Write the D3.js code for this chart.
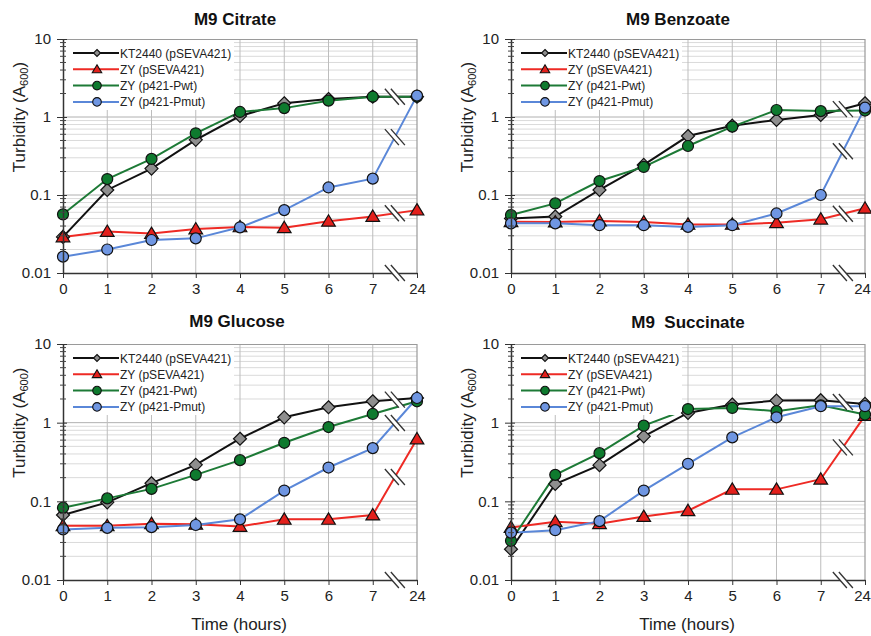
<!DOCTYPE html>
<html>
<head>
<meta charset="utf-8">
<script src="https://cdn.jsdelivr.net/npm/d3@7"></script>
<style>
  body { margin: 0; background: #fff; }
  svg { display: block; font-family: "Liberation Sans", Arial, sans-serif; }
</style>
</head>
<body>
<div id="chart"></div>
<script>
// growth curves, four media

const hours = ["0", "1", "2", "3", "4", "5", "6", "7", "24"];
const yTicks = [10, 1, 0.1, 0.01];
const seriesNames = ["KT2440 (pSEVA421)", "ZY (pSEVA421)", "ZY (p421-Pwt)", "ZY (p421-Pmut)"];

const citrateKT   = [0.029, 0.116, 0.218, 0.51, 1.03, 1.50, 1.70, 1.82, 1.82];
const citrateZY   = [0.029, 0.034, 0.032, 0.0366, 0.039, 0.038, 0.046, 0.053, 0.064];
const citratePwt  = [0.0565, 0.160, 0.290, 0.618, 1.16, 1.30, 1.62, 1.82, 1.82];
const citratePmut = [0.0162, 0.020, 0.0265, 0.0278, 0.0385, 0.064, 0.125, 0.162, 1.88];

const benzoateKT   = [0.050, 0.053, 0.116, 0.243, 0.57, 0.774, 0.916, 1.06, 1.50];
const benzoateZY   = [0.0455, 0.045, 0.0464, 0.045, 0.042, 0.042, 0.044, 0.049, 0.0675];
const benzoatePwt  = [0.0554, 0.078, 0.151, 0.229, 0.425, 0.752, 1.23, 1.19, 1.21];
const benzoatePmut = [0.0433, 0.0433, 0.041, 0.041, 0.039, 0.041, 0.058, 0.10, 1.32];

const glucoseKT   = [0.067, 0.097, 0.17, 0.291, 0.625, 1.17, 1.57, 1.87, 2.06];
const glucoseZY   = [0.049, 0.049, 0.052, 0.051, 0.048, 0.059, 0.059, 0.067, 0.62];
const glucosePwt  = [0.083, 0.109, 0.144, 0.217, 0.334, 0.555, 0.88, 1.29, 1.87];
const glucosePmut = [0.044, 0.046, 0.047, 0.050, 0.059, 0.137, 0.269, 0.475, 2.06];

const succinateKT   = [0.0246, 0.166, 0.288, 0.67, 1.33, 1.70, 1.91, 1.93, 1.73];
const succinateZY   = [0.0466, 0.055, 0.052, 0.064, 0.076, 0.142, 0.142, 0.191, 1.23];
const succinatePwt  = [0.0315, 0.217, 0.41, 0.916, 1.49, 1.54, 1.40, 1.66, 1.27];
const succinatePmut = [0.040, 0.043, 0.056, 0.137, 0.30, 0.65, 1.17, 1.62, 1.62];

const styles = [
  { line: "#111111", fill: "#8e8e8e", shape: "diamond", size: 6.5, legendSize: 3.5 },
  { line: "#ee2a24", fill: "#e3201c", shape: "triangle", size: 6.5, legendSize: 4.5 },
  { line: "#1d7a36", fill: "#0e7a2e", shape: "circle", size: 5.5, legendSize: 4.3 },
  { line: "#5a87d8", fill: "#6f96e2", shape: "circle", size: 5.5, legendSize: 4.3 }
];

const panels = [
  { title: "M9 Citrate", series: [citrateKT, citrateZY, citratePwt, citratePmut],
    left: 63, top: 39, width: 354, height: 234, titleX: 235, titleY: 25, xLabel: false },
  { title: "M9 Benzoate", series: [benzoateKT, benzoateZY, benzoatePwt, benzoatePmut],
    left: 511, top: 39, width: 354, height: 234, titleX: 678, titleY: 25, xLabel: false },
  { title: "M9 Glucose", series: [glucoseKT, glucoseZY, glucosePwt, glucosePmut],
    left: 63, top: 344, width: 354, height: 236, titleX: 237, titleY: 327, xLabel: true },
  { title: "M9  Succinate", series: [succinateKT, succinateZY, succinatePwt, succinatePmut],
    left: 511, top: 344, width: 354, height: 236, titleX: 688, titleY: 328, xLabel: true }
];

const svg = d3.select("#chart")
  .append("svg")
  .attr("width", 871)
  .attr("height", 636);

function markerPath(shape, s) {
  if (shape === "diamond") return `M0,${-s}L${s},0L0,${s}L${-s},0Z`;
  if (shape === "triangle") return `M0,${-s}L${s * 1.05},${s * 0.75}L${-s * 1.05},${s * 0.75}Z`;
  return d3.symbol().type(d3.symbolCircle).size(Math.PI * s * s)();
}

function drawBreak(g, cx, cy) {
  const dx = 7, dy = 8, gap = 3;
  g.append("path")
    .attr("d", `M${cx - gap - dx},${cy - dy}L${cx + gap - dx},${cy - dy}L${cx + gap + dx},${cy + dy}L${cx - gap + dx},${cy + dy}Z`)
    .attr("fill", "#fff");
  [-gap, gap].forEach(o => {
    g.append("line")
      .attr("x1", cx + o - dx).attr("y1", cy - dy)
      .attr("x2", cx + o + dx).attr("y2", cy + dy)
      .attr("stroke", "#333").attr("stroke-width", 1.4);
  });
}

panels.forEach(p => {
  const g = svg.append("g").attr("transform", `translate(${p.left},${p.top})`);

  const x = d3.scalePoint().domain(hours).range([0, p.width]);
  const y = d3.scaleLog().domain([0.01, 10]).range([p.height, 0]);

  // grid
  const minor = [];
  [0.01, 0.1, 1].forEach(d => { for (let k = 2; k <= 9; k++) minor.push(d * k); });
  g.selectAll(".minor").data(minor).join("line")
    .attr("x1", 0).attr("x2", p.width)
    .attr("y1", d => y(d)).attr("y2", d => y(d))
    .attr("stroke", "#dadada").attr("stroke-width", 1);
  g.selectAll(".major").data([0.1, 1]).join("line")
    .attr("x1", 0).attr("x2", p.width)
    .attr("y1", d => y(d)).attr("y2", d => y(d))
    .attr("stroke", "#b0b0b0").attr("stroke-width", 1);
  g.selectAll(".vgrid").data(hours.slice(1, -1)).join("line")
    .attr("x1", d => x(d)).attr("x2", d => x(d))
    .attr("y1", 0).attr("y2", p.height)
    .attr("stroke", "#bdbdbd").attr("stroke-width", 1);

  // frame
  g.append("path")
    .attr("d", `M0,0.5H${p.width}V${p.height}`)
    .attr("fill", "none").attr("stroke", "#9a9a9a").attr("stroke-width", 1.2);

  // lines
  const line = d3.line().x((d, i) => x(hours[i])).y(d => y(d));
  p.series.forEach((vals, si) => {
    g.append("path")
      .datum(vals)
      .attr("d", line)
      .attr("fill", "none")
      .attr("stroke", styles[si].line)
      .attr("stroke-width", 2);
  });

  // legend
  const leg = g.append("g");
  leg.append("rect")
    .attr("x", 1).attr("y", 1).attr("width", 170).attr("height", 70)
    .attr("fill", "#fff");
  seriesNames.forEach((name, si) => {
    const ry = 14 + si * 16.3;
    leg.append("line")
      .attr("x1", 10).attr("x2", 56).attr("y1", ry).attr("y2", ry)
      .attr("stroke", styles[si].line).attr("stroke-width", 2);
    leg.append("path")
      .attr("transform", `translate(34,${ry})`)
      .attr("d", markerPath(styles[si].shape, styles[si].legendSize))
      .attr("fill", styles[si].fill).attr("stroke", "#111").attr("stroke-width", 1.1);
    leg.append("text")
      .attr("x", 57).attr("y", ry + 4.5)
      .attr("font-size", "12px").attr("fill", "#222")
      .text(name);
  });

  // axis breaks between 7 and 24
  const midX = (x("7") + x("24")) / 2;
  const placed = [];
  p.series.forEach(vals => {
    const my = (y(vals[7]) + y(vals[8])) / 2;
    if (placed.every(v => Math.abs(v - my) > 10)) {
      placed.push(my);
      drawBreak(g, midX, my);
    }
  });

  // markers
  p.series.forEach((vals, si) => {
    g.selectAll(`.m${si}`).data(vals).join("path")
      .attr("transform", (d, i) => `translate(${x(hours[i])},${y(d)})`)
      .attr("d", markerPath(styles[si].shape, styles[si].size))
      .attr("fill", styles[si].fill)
      .attr("stroke", "#111").attr("stroke-width", 1.2);
  });

  // axes
  const leftAxis = d3.axisLeft(y)
    .tickValues(yTicks)
    .tickFormat(d3.format("~g"))
    .tickSize(6).tickPadding(6).tickSizeOuter(0);
  const ya = g.append("g").call(leftAxis);
  ya.select(".domain").attr("stroke", "#333").attr("stroke-width", 1.5);
  ya.selectAll("line").attr("stroke", "#333").attr("x2", -6).attr("x1", 4);
  ya.selectAll("text").attr("font-size", "15px").attr("fill", "#222")
    .attr("font-family", "'Liberation Sans', Arial, sans-serif");
  g.selectAll(".mtick").data(minor).join("line")
    .attr("x1", -3).attr("x2", 3)
    .attr("y1", d => y(d)).attr("y2", d => y(d))
    .attr("stroke", "#444").attr("stroke-width", 1);

  const bottomAxis = d3.axisBottom(x).tickSize(5).tickPadding(5).tickSizeOuter(0);
  const xa = g.append("g").attr("transform", `translate(0,${p.height})`).call(bottomAxis);
  xa.select(".domain").attr("stroke", "#333").attr("stroke-width", 1.5);
  xa.selectAll("line").attr("stroke", "#333");
  xa.selectAll("text").attr("font-size", "15px").attr("fill", "#222")
    .attr("font-family", "'Liberation Sans', Arial, sans-serif");
  // keep the last label inside the page on the right-hand panels
  if (p.left + p.width + 10 > 871) {
    xa.selectAll(".tick").filter(d => d === "24").select("text").attr("dx", -3);
  }

  drawBreak(g, midX, p.height);

  // title
  svg.append("text")
    .attr("x", p.titleX).attr("y", p.titleY)
    .attr("text-anchor", "middle")
    .attr("font-size", "17px").attr("font-weight", "bold").attr("fill", "#111")
    .style("white-space", "pre")
    .text(p.title);

  // y label
  const yl = svg.append("text")
    .attr("transform", `translate(${p.left - 38},${p.top + y(1)}) rotate(-90)`)
    .attr("text-anchor", "middle")
    .attr("font-size", "17px").attr("fill", "#222");
  yl.append("tspan").text("Turbidity (A");
  yl.append("tspan").attr("font-size", "11px").attr("dy", 3).text("600");
  yl.append("tspan").attr("dy", -3).text(")");

  if (p.xLabel) {
    svg.append("text")
      .attr("x", p.left + p.width / 2 - 1).attr("y", p.top + p.height + 50)
      .attr("text-anchor", "middle")
      .attr("font-size", "17px").attr("fill", "#222")
      .text("Time (hours)");
  }
});
</script>
</body>
</html>
